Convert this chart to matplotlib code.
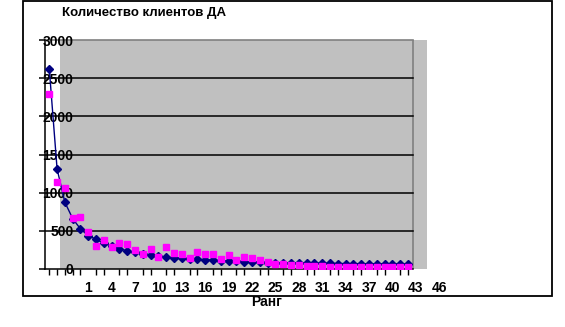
import matplotlib
matplotlib.use("Agg")
import matplotlib.pyplot as plt
from matplotlib.patches import Rectangle
import numpy as np

title = "Количество клиентов ДА"
xlabel = "Ранг"

series_blue = [2620, 1310, 874, 660, 524, 437, 389, 337, 300, 262,
               240, 219, 200, 183, 168, 153, 150, 140, 133, 127,
               122, 118, 110, 107, 100, 98, 90, 88, 85, 83,
               80, 80, 78, 76, 75, 74, 73, 72, 71, 70,
               70, 69, 68, 68, 67, 66, 65]
series_pink = [2290, 1144, 1065, 672, 685, 489, 305, 380, 292, 345,
               332, 249, 197, 266, 161, 292, 214, 203, 148, 219,
               197, 197, 131, 188, 118, 163, 146, 114, 92, 70,
               64, 57, 48, 44, 42, 35, 30, 32, 28, 25,
               25, 22, 22, 20, 22, 20, 20]
xtick_labels = [1, 4, 7, 10, 13, 16, 19, 22, 25, 28, 31, 34, 37, 40, 43, 46]
ytick_values = [0, 500, 1000, 1500, 2000, 2500, 3000]

W, H = 565, 327
fig = plt.figure(figsize=(W / 100, H / 100), dpi=100)
plt.rcParams['font.family'] = ['Liberation Sans', 'DejaVu Sans']

offset = 4  # rank label 1 sits at category index 5
x = np.arange(len(series_blue))
xmin, xmax = -0.55, 50.8
area_right = 46.6

ax = fig.add_axes([45 / W, 58 / H, 400.5 / W, 229 / H])
ax.set_xlim(xmin, xmax)
ax.set_ylim(0, 3000)
ax.patch.set_alpha(0)

# grey plot background
ax.add_patch(Rectangle((1.37, 0), 48.4 - 1.37, 3000, facecolor='#C0C0C0',
                       edgecolor='none', zorder=0))
# plot-area border (top and right, grey)
ax.plot([xmin, area_right], [3000, 3000], color='#808080', lw=1.2, zorder=1,
        clip_on=False)
ax.plot([area_right, area_right], [0, 3000], color='#808080', lw=1.2, zorder=1)
# gridlines
for v in ytick_values[1:-1]:
    ax.plot([xmin, area_right], [v, v], color='black', lw=1.1, zorder=1)

ax.plot(x, series_blue, color='#000080', lw=1.0, marker='D', ms=4.5,
        markerfacecolor='#000080', markeredgecolor='#000080', zorder=3)
ax.plot(x, series_pink, linestyle='none', marker='s', ms=5,
        markerfacecolor='#FF00FF', markeredgecolor='#FF00FF', zorder=4)

for s in ['top', 'right']:
    ax.spines[s].set_visible(False)
ax.spines['left'].set_linewidth(1.1)
ax.spines['bottom'].set_linewidth(1.1)
ax.spines['bottom'].set_bounds(xmin, area_right)

ax.set_yticks(ytick_values)
ax.set_yticklabels([str(v) for v in ytick_values], fontsize=10,
                   fontweight='bold')
ax.tick_params(axis='y', direction='out', length=4, width=1.1, pad=-24.5)
for lab in ax.get_yticklabels():
    lab.set_horizontalalignment('right')

ax.set_xticks([r + offset for r in xtick_labels])
ax.set_xticklabels([str(r) for r in xtick_labels], fontsize=10,
                   fontweight='bold')
ax.set_xticks(list(x), minor=True)
ax.tick_params(axis='x', which='major', length=0, pad=9)
ax.tick_params(axis='x', which='minor', direction='out', length=4, width=1)

fig.text(62 / W, 1 - 13 / H, title, fontsize=9.5, fontweight='bold',
         ha='left', va='center')
fig.text(267 / W, 1 - 302.5 / H, xlabel, fontsize=10, fontweight='bold',
         ha='center', va='center')

fig.patches.append(Rectangle((23 / W, 1 - 296 / H), 529 / W, 296 / H - 0.002,
                             transform=fig.transFigure, fill=False,
                             edgecolor='black', lw=1.3))

fig.savefig('out.png', dpi=100)
